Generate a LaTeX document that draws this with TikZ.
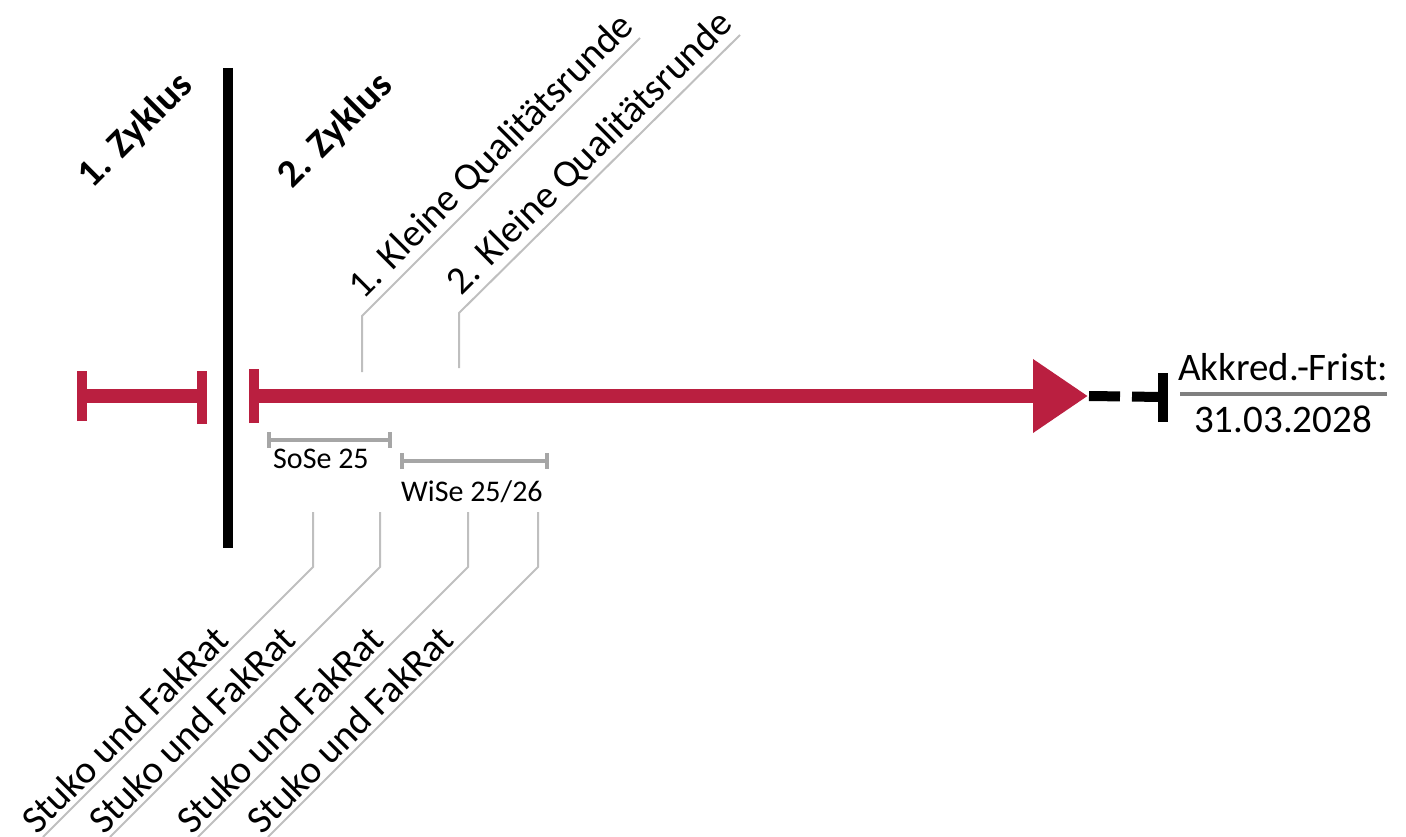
\documentclass[tikz,border=0pt]{standalone}
\usepackage{fontspec}
\setmainfont{Carlito}
\usetikzlibrary{arrows.meta}

\definecolor{unired}{RGB}{186,31,64}
\definecolor{leadergray}{RGB}{191,191,191}
\definecolor{semgray}{RGB}{166,166,166}
\definecolor{fristgray}{RGB}{127,127,127}

\tikzset{
  bigtext/.style={font=\fontsize{39}{46}\selectfont, inner sep=4pt},
  smalltext/.style={font=\fontsize{30}{36}\selectfont, inner sep=0pt},
  zeitstrahl/.style={unired, line width=14pt},
  endbar/.style={line width=10pt},
  leader/.style={leadergray, line width=2pt},
  semester/.style={semgray, line width=4pt, {Bar[width=16pt]}-{Bar[width=16pt]}},
}

\begin{document}
\begin{tikzpicture}[x=1pt, y=-1pt]
\useasboundingbox (0,0) rectangle (1406,837);

% Zyklus-Trenner
\coordinate (divtop) at (228,68);
\coordinate (divbot) at (228,548);
\draw[line width=10pt] (divtop) -- (divbot);
\node[bigtext, font=\fontsize{39}{46}\selectfont\bfseries, rotate=45] (zyk1) at (136,131) {1. Zyklus};
\node[bigtext, font=\fontsize{39}{46}\selectfont\bfseries, rotate=45] (zyk2) at (336,131) {2. Zyklus};

% 1. Zyklus
\coordinate (alt1) at (82,396);
\coordinate (alt2) at (202,396);
\draw[zeitstrahl] (alt1) -- (alt2);
\draw[endbar, unired] ([yshift=-25pt]alt1) -- ([yshift=25pt]alt1);
\draw[endbar, unired] ([yshift=-28pt]alt2) -- ([yshift=25pt]alt2);

% 2. Zyklus
\coordinate (start) at (253.5,396);
\coordinate (tip) at (1088,396);
\draw[zeitstrahl, -{Triangle[length=55pt, width=70pt]}] (start) -- (tip);
\draw[endbar, unired] ([yshift=-27pt]start) -- ([yshift=27pt]start);

% Frist
\coordinate (fristbar) at (1163,397);
\draw[line width=10pt, dash pattern=on 31pt off 12pt] ([xshift=1pt]tip) -- (fristbar);
\draw[endbar] ([yshift=-25pt]fristbar) -- ([yshift=24pt]fristbar);
\node[bigtext, inner sep=0pt, anchor=base] (frist) at (1283,380) {Akkred.-Frist:};
\node[bigtext, inner sep=0pt, anchor=base] (datum) at (1283,432) {31.03.2028};
\draw[fristgray, line width=4pt] (1180,394) -- (1387,394);

% Semester
\coordinate (sose1) at (267,440);
\coordinate (sose2) at (392,440);
\draw[semester] (sose1) -- (sose2);
\node[smalltext, anchor=base west] (sose) at (273,468) {SoSe 25};
\coordinate (wise1) at (400,461);
\coordinate (wise2) at (549,461);
\draw[semester] (wise1) -- (wise2);
\node[smalltext, anchor=base west] (wise) at (401,501) {WiSe 25/26};

% Kleine Qualitaetsrunden
\coordinate (kqr1a) at (362,372);
\coordinate (kqr1b) at (362,316);
\coordinate (kqr1c) at (640,38);
\draw[leader] (kqr1a) -- (kqr1b) -- (kqr1c) node[bigtext, black, sloped, above, pos=0.52] (kqr1) {1. Kleine Qualitätsrunde};
\coordinate (kqr2a) at (459,368);
\coordinate (kqr2b) at (459,313);
\coordinate (kqr2c) at (740,35);
\draw[leader] (kqr2a) -- (kqr2b) -- (kqr2c) node[bigtext, black, sloped, above, pos=0.52] (kqr2) {2. Kleine Qualitätsrunde};

% Stuko und FakRat
\foreach \x [count=\i] in {313,380,468,538} {
  \coordinate (stuko\i a) at (\x,512);
  \coordinate (stuko\i b) at (\x,567);
  \coordinate (stuko\i c) at (\x-270,837);
  \draw[leader] (stuko\i a) -- (stuko\i b) -- (stuko\i c) node[bigtext, black, sloped, above, pos=0.65] (stuko\i) {Stuko und FakRat};
}
\end{tikzpicture}
\end{document}
